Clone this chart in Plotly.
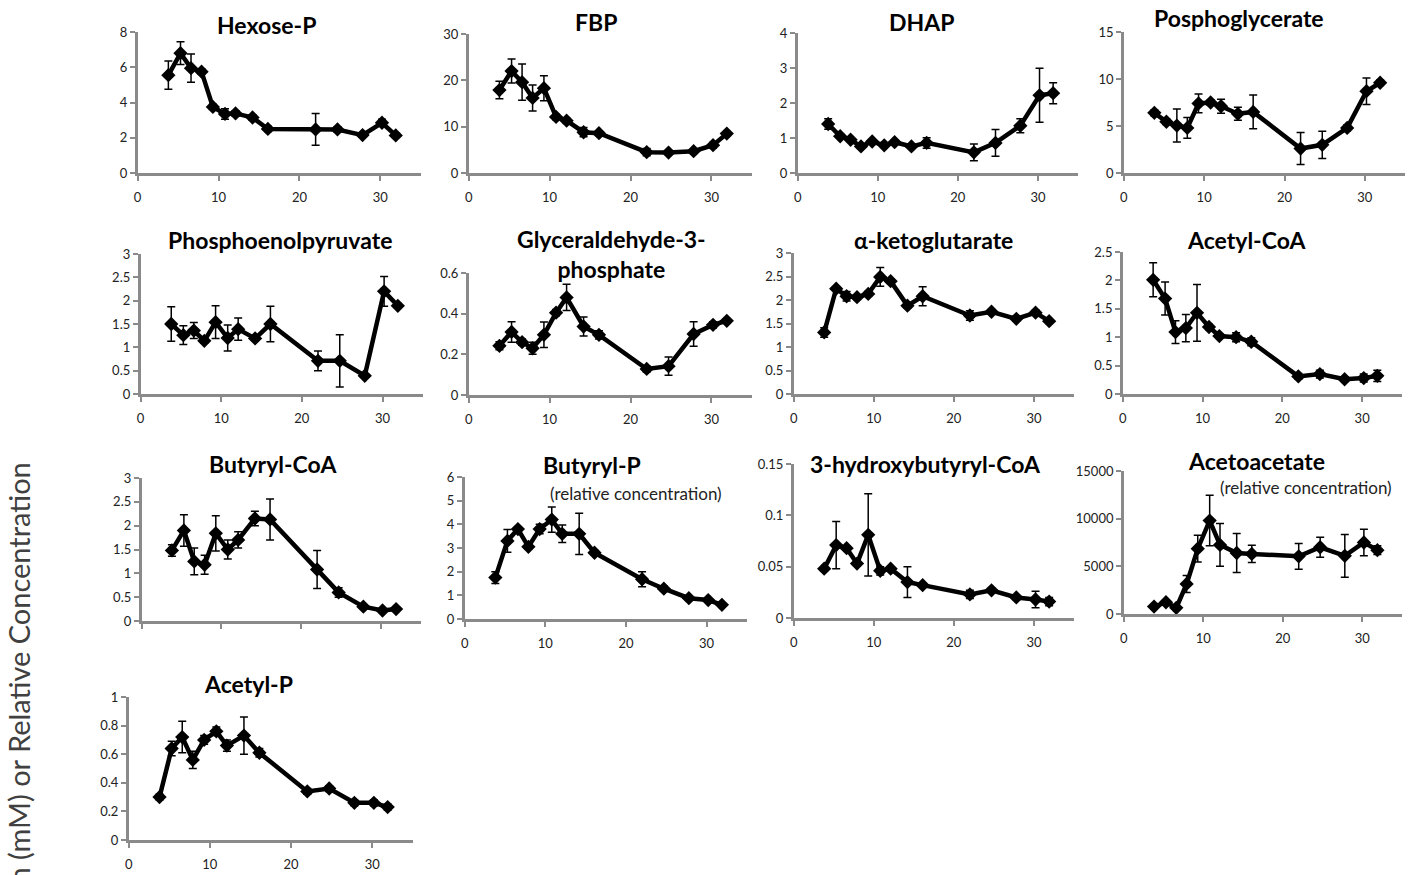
import plotly.graph_objects as go

# Sampling times (h)
time_h = [3.8, 5.3, 6.6, 7.9, 9.3, 10.8, 12.1, 14.2, 16.1, 22.0, 24.7, 27.8, 30.2, 31.9]

# Metabolite concentrations (mean) and error bars
hexose_p = [5.55, 6.8, 5.95, 5.75, 3.75, 3.35, 3.38, 3.15, 2.5, 2.47, 2.47, 2.15, 2.85, 2.13]
hexose_p_err = [0.8, 0.65, 0.8, 0.15, 0.15, 0.3, 0.15, 0.15, 0.15, 0.9, 0.15, 0.12, 0.2, 0.12]

fbp = [17.9, 22.0, 19.6, 16.2, 18.3, 12.1, 11.3, 8.8, 8.6, 4.5, 4.4, 4.7, 6.0, 8.5]
fbp_err = [1.9, 2.6, 3.9, 2.8, 2.7, 0.6, 0.5, 1.0, 0.5, 0.8, 0.4, 0.5, 0.6, 0.4]

dhap = [1.4, 1.05, 0.95, 0.76, 0.9, 0.79, 0.88, 0.76, 0.86, 0.59, 0.86, 1.35, 2.22, 2.28]
dhap_err = [0.15, 0.06, 0.05, 0.04, 0.05, 0.04, 0.05, 0.04, 0.15, 0.24, 0.38, 0.2, 0.77, 0.3]

phosphoglycerate = [6.4, 5.45, 5.05, 4.8, 7.4, 7.5, 7.1, 6.3, 6.5, 2.6, 3.0, 4.8, 8.7, 9.6]
phosphoglycerate_err = [0.3, 0.3, 1.75, 1.1, 1.0, 0.3, 0.75, 0.7, 1.8, 1.7, 1.45, 0.3, 1.4, 0.3]

pep = [1.5, 1.26, 1.36, 1.14, 1.54, 1.2, 1.39, 1.19, 1.5, 0.71, 0.71, 0.39, 2.2, 1.89]
pep_err = [0.37, 0.2, 0.17, 0.05, 0.35, 0.28, 0.24, 0.05, 0.38, 0.21, 0.56, 0.03, 0.32, 0.05]

g3p = [0.242, 0.31, 0.26, 0.23, 0.296, 0.405, 0.48, 0.337, 0.296, 0.128, 0.142, 0.30, 0.345, 0.365]
g3p_err = [0.02, 0.05, 0.015, 0.03, 0.063, 0.015, 0.065, 0.047, 0.02, 0.015, 0.045, 0.06, 0.015, 0.01]

akg = [1.31, 2.24, 2.08, 2.06, 2.13, 2.49, 2.4, 1.88, 2.08, 1.67, 1.75, 1.6, 1.73, 1.55]
akg_err = [0.1, 0.03, 0.1, 0.05, 0.05, 0.2, 0.05, 0.05, 0.2, 0.1, 0.05, 0.05, 0.05, 0.03]

acetyl_coa = [2.01, 1.68, 1.09, 1.16, 1.43, 1.18, 1.02, 1.0, 0.92, 0.31, 0.35, 0.26, 0.28, 0.32]
acetyl_coa_err = [0.3, 0.29, 0.2, 0.24, 0.5, 0.05, 0.04, 0.08, 0.07, 0.05, 0.07, 0.04, 0.07, 0.1]

butyryl_coa = [1.48, 1.9, 1.25, 1.18, 1.84, 1.5, 1.7, 2.15, 2.13, 1.08, 0.6, 0.3, 0.22, 0.25]
butyryl_coa_err = [0.12, 0.33, 0.28, 0.2, 0.37, 0.2, 0.17, 0.15, 0.43, 0.4, 0.1, 0.04, 0.03, 0.03]

butyryl_p = [1.75, 3.3, 3.8, 3.05, 3.8, 4.2, 3.6, 3.6, 2.8, 1.68, 1.28, 0.88, 0.8, 0.6]
butyryl_p_err = [0.25, 0.48, 0.1, 0.1, 0.2, 0.53, 0.37, 0.87, 0.1, 0.32, 0.1, 0.08, 0.05, 0.05]

hb_coa = [0.048, 0.071, 0.068, 0.053, 0.081, 0.046, 0.048, 0.035, 0.032, 0.023, 0.027, 0.02, 0.018, 0.016]
hb_coa_err = [0.002, 0.023, 0.002, 0.002, 0.04, 0.004, 0.002, 0.015, 0.002, 0.004, 0.002, 0.002, 0.008, 0.004]

acetoacetate = [780, 1230, 650, 3150, 6850, 9800, 7250, 6400, 6300, 6050, 7000, 6100, 7500, 6700]
acetoacetate_err = [150, 150, 150, 900, 1400, 2650, 2250, 2050, 900, 1350, 1050, 2250, 1400, 450]

acetyl_p = [0.30, 0.64, 0.72, 0.56, 0.70, 0.76, 0.66, 0.73, 0.61, 0.34, 0.36, 0.26, 0.26, 0.23]
acetyl_p_err = [0.02, 0.05, 0.11, 0.06, 0.03, 0.03, 0.04, 0.13, 0.03, 0.02, 0.02, 0.02, 0.02, 0.02]

x_ticks = [0, 10, 20, 30]

W, H = 1415, 875
FONT = "Lato, 'Open Sans', sans-serif"
AXIS_GREY = "#8a8a8a"
TEXT = "#222"


def px(x):
    """Horizontal page pixel -> paper fraction."""
    return x / W


def py(y):
    """Vertical page pixel -> paper fraction (page offset 8 px, drawable 859 px)."""
    return 1 - (y - 8) / 859


# title, values, errors, y max, y step, plot box (left, right, top, bottom px),
# title centre (px), optional subtitle centre (px), show x labels
panels = [
    ("Hexose-P", hexose_p, hexose_p_err, 8, 2, (134, 418, 32, 173), (263, 25), None, True),
    ("FBP", fbp, fbp_err, 30, 10, (466, 750, 34, 173), (594, 22), None, True),
    ("DHAP", dhap, dhap_err, 4, 1, (796, 1077, 33, 173), (920, 22), None, True),
    ("Posphoglycerate", phosphoglycerate, phosphoglycerate_err, 15, 5, (1123, 1405, 32, 173), (1238, 18), None, True),
    ("Phosphoenolpyruvate", pep, pep_err, 3, 0.5, (137, 420, 254, 394), (277, 240), None, True),
    ("Glyceraldehyde-3-<br>phosphate", g3p, g3p_err, 0.6, 0.2, (466, 750, 273, 395), (609, 254), None, True),
    ("α-ketoglutarate", akg, akg_err, 3, 0.5, (792, 1073, 253, 394), (932, 240), None, True),
    ("Acetyl-CoA", acetyl_coa, acetyl_coa_err, 2.5, 0.5, (1122, 1402, 252, 394), (1247, 240), None, True),
    ("Butyryl-CoA", butyryl_coa, butyryl_coa_err, 3, 0.5, (138, 418, 478, 621), (270, 464), None, False),
    ("Butyryl-P", butyryl_p, butyryl_p_err, 6, 1, (462, 745, 477, 619), (590, 465), (634, 493), True),
    ("3-hydroxybutyryl-CoA", hb_coa, hb_coa_err, 0.15, 0.05, (792, 1073, 464, 618), (924, 464), None, True),
    ("Acetoacetate", acetoacetate, acetoacetate_err, 15000, 5000, (1123, 1402, 471, 614), (1256, 461), (1306, 487), True),
    ("Acetyl-P", acetyl_p, acetyl_p_err, 1, 0.2, (125, 410, 697, 840), (245, 684), None, True),
]

fig = go.Figure()
layout = {}
annotations = []

for i, (title, vals, errs, ymax, ystep, box, tpos, spos, show_x) in enumerate(panels, start=1):
    sfx = "" if i == 1 else str(i)
    left, right, top, bottom = box
    fig.add_trace(go.Scatter(
        x=time_h, y=vals,
        mode="lines+markers",
        line=dict(color="black", width=4.5),
        marker=dict(symbol="diamond", size=11, color="black"),
        error_y=dict(type="data", array=errs, visible=True,
                     color="black", thickness=1.5, width=4),
        xaxis="x" + sfx, yaxis="y" + sfx,
        cliponaxis=False, showlegend=False,
    ))
    layout["xaxis" + sfx] = dict(
        domain=[px(left), px(right)], anchor="y" + sfx,
        range=[0, 35], tickmode="array", tickvals=x_ticks,
        showticklabels=show_x,
        showline=True, linecolor=AXIS_GREY, linewidth=2.5,
        ticks="outside", ticklen=5, tickwidth=2, tickcolor=AXIS_GREY,
        ticklabelstandoff=6,
        showgrid=False, zeroline=False,
        tickfont=dict(family=FONT, size=13, color=TEXT),
    )
    layout["yaxis" + sfx] = dict(
        domain=[py(bottom), py(top)], anchor="x" + sfx,
        range=[0, ymax], tickmode="linear", tick0=0, dtick=ystep,
        tickformat="d" if ymax >= 1000 else None,
        showline=True, linecolor=AXIS_GREY, linewidth=2.5,
        ticks="outside", ticklen=5, tickwidth=2, tickcolor=AXIS_GREY,
        showgrid=False, zeroline=False,
        tickfont=dict(family=FONT, size=13, color=TEXT),
    )
    annotations.append(dict(
        text="<b>" + title + "</b>", x=px(tpos[0]), y=py(tpos[1]),
        xref="paper", yref="paper", xanchor="center", yanchor="middle",
        showarrow=False, font=dict(family=FONT, size=23, color="black"),
    ))
    if spos is not None:
        annotations.append(dict(
            text="(relative concentration)", x=px(spos[0]), y=py(spos[1]),
            xref="paper", yref="paper", xanchor="center", yanchor="middle",
            showarrow=False, font=dict(family=FONT, size=17, color=TEXT),
        ))

# Shared vertical axis title (runs past the lower page edge)
annotations.append(dict(
    text="Concentration (mM) or Relative Concentration",
    x=px(15), y=py(460), xref="paper", yref="paper",
    xanchor="center", yanchor="top", textangle=-90, showarrow=False,
    font=dict(family=FONT, size=29, color="#404040"),
))

fig.update_layout(
    width=W, height=H,
    margin=dict(l=0, r=0, t=0, b=0),
    paper_bgcolor="white", plot_bgcolor="white",
    annotations=annotations,
    **layout,
)

fig.write_html("out.html")
